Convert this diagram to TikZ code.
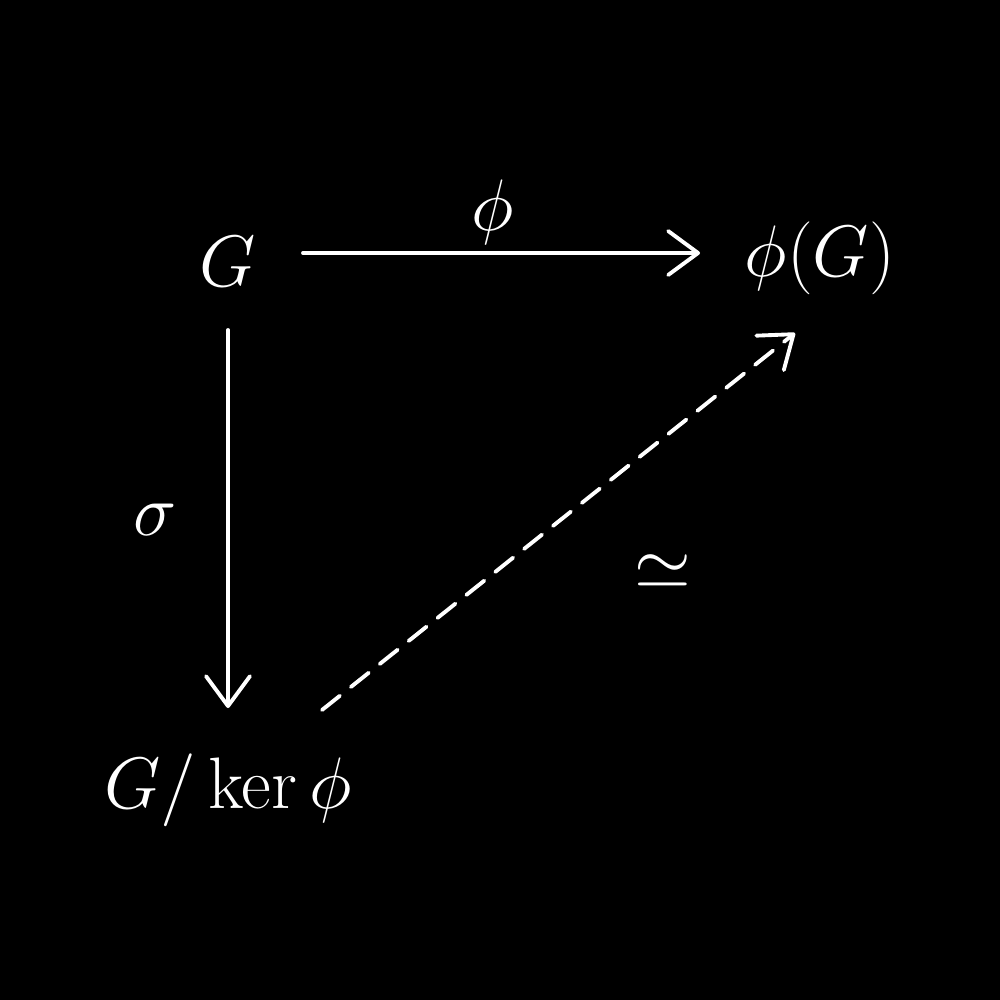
\documentclass[tikz,border=0pt]{standalone}
\usetikzlibrary{arrows.meta}
\begin{document}
\begin{tikzpicture}[x=0.01cm,y=-0.01cm,
  lbl/.style={text=white,font=\fontsize{21.5}{26}\selectfont,inner sep=0pt},
  arr/.style={draw=white,line width=1.1pt,line cap=round,
    -{Straight Barb[length=8.5pt,width=12.5pt,line width=1.1pt,round]}},
  dsh/.style={arr,dash pattern=on 6.5pt off 4pt}]
\fill[black] (0,0) rectangle (1000,1000);
\useasboundingbox (0,0) rectangle (1000,1000);
\node[lbl] (G) at (228,262) {$G$};
\node[lbl] (phiG) at (820,258) {$\phi(G)$};
\node[lbl] (Q) at (228,790) {$G/\ker\phi$};
\node[lbl] (phil) at (493,212) {$\phi$};
\node[lbl] (sig) at (155,520) {$\sigma$};
\node[lbl] (iso) at (663,572) {$\simeq$};
\draw[arr] ([shift={(75,-9)}]G.center) -- ([shift={(-120,-5)}]phiG.center);
\draw[arr] ([shift={(0,68)}]G.center) -- ([shift={(0,-82)}]Q.center);
\draw[dsh] ([shift={(94,-80)}]Q.center) -- ([shift={(-25,75)}]phiG.center);
\end{tikzpicture}
\end{document}
